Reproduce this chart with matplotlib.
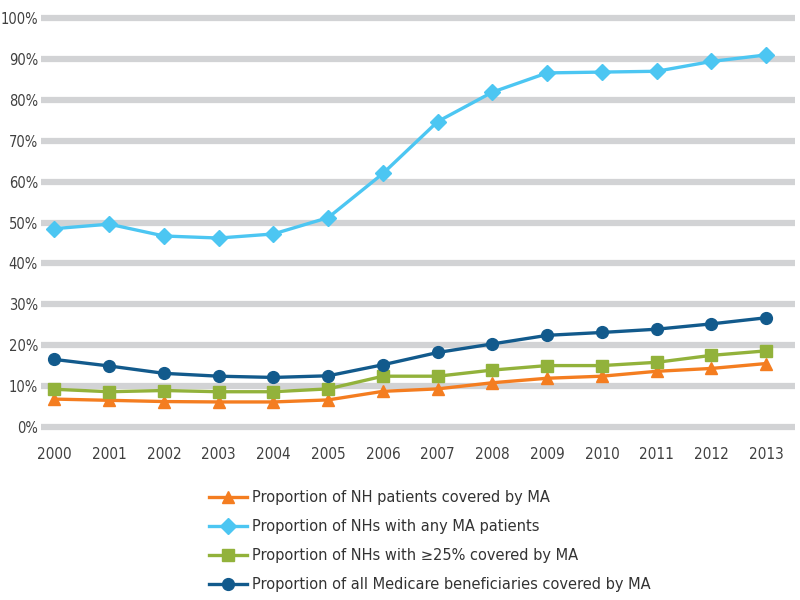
import matplotlib
matplotlib.use("Agg")
import matplotlib.pyplot as plt
from matplotlib import font_manager
from matplotlib.ticker import FuncFormatter

years = [2000, 2001, 2002, 2003, 2004, 2005, 2006,
         2007, 2008, 2009, 2010, 2011, 2012, 2013]

nh_patients = [6.8, 6.5, 6.2, 6.1, 6.1, 6.6, 8.7,
               9.3, 10.8, 11.9, 12.4, 13.6, 14.3, 15.5]
nhs_any = [48.5, 49.6, 46.7, 46.2, 47.2, 51.2, 62.0,
           74.7, 81.9, 86.6, 86.8, 87.0, 89.4, 91.0]
nhs_25 = [9.2, 8.6, 8.9, 8.6, 8.6, 9.3, 12.4,
          12.4, 13.9, 15.0, 15.0, 15.8, 17.5, 18.6]
all_medicare = [16.5, 14.9, 13.1, 12.4, 12.1, 12.5, 15.2,
                18.2, 20.3, 22.4, 23.1, 23.9, 25.2, 26.7]

labels = ["Proportion of NH patients covered by MA",
          "Proportion of NHs with any MA patients",
          "Proportion of NHs with \u226525% covered by MA",
          "Proportion of all Medicare beneficiaries covered by MA"]

plt.rcParams['font.family'] = ['Liberation Sans', 'DejaVu Sans']

# ticks in the original use a condensed face, use one if there is any
narrow = None
for f in sorted(font_manager.findSystemFonts()):
    n = f.lower()
    if ('condensed' in n or 'narrow' in n) and 'bold' not in n and 'italic' not in n \
            and 'oblique' not in n and 'mono' not in n and 'serif' not in n:
        narrow = f
        break
if narrow:
    xtick_fp = font_manager.FontProperties(fname=narrow, size=11)
    ytick_fp = font_manager.FontProperties(fname=narrow, size=10.5)
else:
    xtick_fp = font_manager.FontProperties(family='Liberation Sans', size=9.8)
    ytick_fp = font_manager.FontProperties(family='Liberation Sans', size=9.5)

fig = plt.figure(figsize=(8, 6), dpi=100)
ax = fig.add_axes([0.051, 0.2783, 0.943, 0.7017])

# color, marker, marker size
series = [
    (nh_patients, '#f47d20', '^', 9),
    (nhs_any, '#4cc6f2', 'D', 8),
    (nhs_25, '#92b23b', 's', 8),
    (all_medicare, '#125a8c', 'o', 8.5),
]
handles = []
for (vals, col, mk, ms), lab in zip(series, labels):
    h, = ax.plot(years, vals, color=col, marker=mk, lw=2.4, ms=ms,
                 label=lab, zorder=3, clip_on=False)
    handles.append(h)

ax.set_xlim(1999.75, 2013.53)
ax.set_ylim(-1.5, 101.5)
ax.set_yticks(range(0, 101, 10))
ax.set_xticks(years)
ax.yaxis.set_major_formatter(FuncFormatter(lambda v, p: f"{int(v)}%"))
ax.grid(axis='y', color='#d2d3d5', lw=4.5, zorder=0)
ax.set_axisbelow(True)
for s in ax.spines.values():
    s.set_visible(False)
ax.tick_params(length=0, colors='#404040')
ax.tick_params(axis='y', pad=2)
ax.tick_params(axis='x', pad=10)
for t in ax.get_xticklabels():
    t.set_fontproperties(xtick_fp)
for t in ax.get_yticklabels():
    t.set_fontproperties(ytick_fp)

fig.legend(handles=handles, loc='upper left', bbox_to_anchor=(0.245, 0.205),
           frameon=False, handlelength=2.6, handletextpad=0.35,
           labelspacing=0.95, labelcolor='#333333',
           prop={'family': ['DejaVu Sans'], 'size': 10.5})

fig.savefig("out.png", dpi=100)
